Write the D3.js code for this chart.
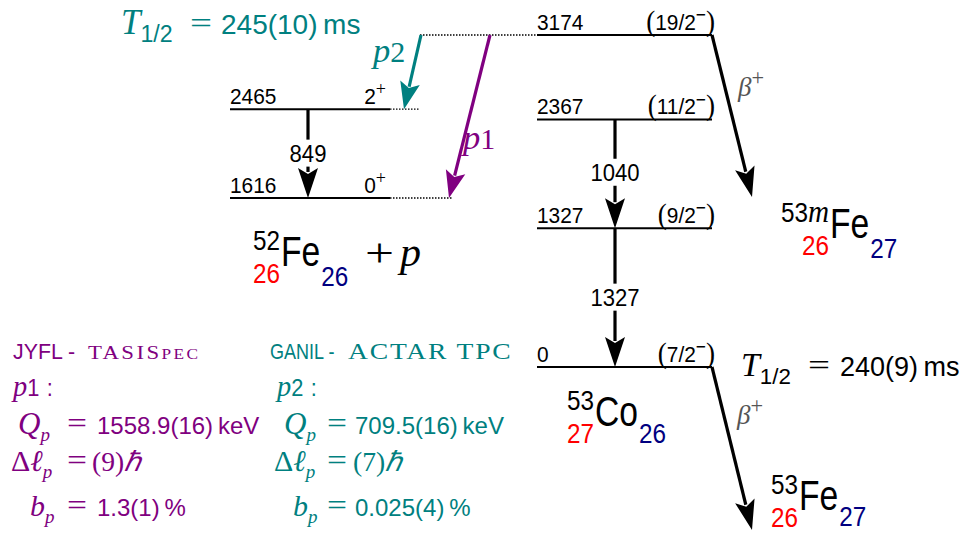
<!DOCTYPE html>
<html><head><meta charset="utf-8">
<script src="https://cdn.jsdelivr.net/npm/d3@7"></script>
<style>body{margin:0;background:#fff}text{white-space:pre}</style>
</head><body><svg id="c" width="970" height="533"></svg>
<script>
// ---------- data ----------
const co53Energies = [3174, 2367, 1327, 0];
const co53Spins = ["19/2", "11/2", "9/2", "7/2"];
const fe52Energies = [2465, 1616];
const fe52Spins = ["2", "0"];
const gammaFrom = [2465, 2367, 1327];
const gammaTo = [1616, 1327, 0];
const gammaLabels = ["849", "1040", "1327"];
const gammaSide = ["fe", "co", "co"];
const protonNames = ["p1", "p2"];
const protonFrom = [3174, 3174];
const protonTo = [1616, 2465];
const protonLab = ["JYFL - ", "GANIL - "];
const protonDet = [["TASIS", "PEC"], ["ACTAR TPC", ""]];
const protonQ = ["1558.9(16)", "709.5(16)"];
const protonDl = ["(9)", "(7)"];
const protonBp = ["1.3(1)", "0.025(4)"];
const halfLives = ["245(10)", "240(9)"];

const SANS = "Liberation Sans, Arial, sans-serif";
const SERIF = "Liberation Serif, Times New Roman, serif";
const TEAL = "#008080", PURPLE = "#800080", RED = "#ff0000", NAVY = "#000080";

const svg = d3.select("#c");
const y = d3.scaleLinear().domain([0, 3174]).range([367, 35]);
const coX = d3.scaleLinear().domain([0, 1]).range([537, 712]);
const feX = d3.scaleLinear().domain([0, 1]).range([230, 390]);

// rich text: parts flow inside one <text>, optional horizontal scale sx
function rich(x, yy, parts, size, fill, anchor, sx) {
  const g = svg.append("g").attr("transform", `translate(${x},${yy}) scale(${sx || 1},1)`);
  const t = g.append("text").attr("x", 0).attr("y", 0).attr("font-size", size)
    .attr("fill", fill).attr("text-anchor", anchor || "start");
  let cur = 0;
  parts.forEach(p => {
    const target = p.sub ? size * 0.3 : p.sup ? -size * 0.4 : (p.shift || 0);
    const fs = (p.sub || p.sup) ? size * 0.72 * (p.scale || 1) : size * (p.scale || 1);
    const ts = t.append("tspan").attr("dy", target - cur).attr("font-size", fs).text(p.t);
    if (p.f === "i") ts.attr("font-family", SERIF).attr("font-style", "italic");
    else if (p.f === "r") ts.attr("font-family", SERIF);
    else ts.attr("font-family", SANS);
    if (p.fill) ts.attr("fill", p.fill);
    if (p.ls) ts.style("letter-spacing", p.ls + "px");
    cur = target;
  });
  return t;
}
// wide math "=" stretched to a given width
function eq(x, yy, w, size, fill) {
  svg.append("text").attr("x", x).attr("y", yy).attr("font-family", SERIF).attr("font-size", size)
    .attr("fill", fill).attr("textLength", w).attr("lengthAdjust", "spacingAndGlyphs").text("=");
}

function arrow(x1, y1, x2, y2, color, w, hl, hw) {
  const dx = x2 - x1, dy = y2 - y1, L = Math.hypot(dx, dy);
  const ux = dx / L, uy = dy / L, px = -uy, py = ux;
  const bx = x2 - ux * hl, by = y2 - uy * hl;
  svg.append("line").attr("x1", x1).attr("y1", y1).attr("x2", bx + ux * 4).attr("y2", by + uy * 4)
    .attr("stroke", color).attr("stroke-width", w);
  const ix = x2 - ux * hl * 0.8, iy = y2 - uy * hl * 0.8;
  svg.append("path").attr("d", `M${x2},${y2}L${bx + px * hw},${by + py * hw}L${ix},${iy}L${bx - px * hw},${by - py * hw}Z`)
    .attr("fill", color);
}

// ---------- levels ----------
co53Energies.forEach((e, i) => {
  svg.append("line").attr("x1", coX(0)).attr("x2", coX(1)).attr("y1", y(e)).attr("y2", y(e))
    .attr("stroke", "#000").attr("stroke-width", 2);
  rich(coX(0), y(e) - 5, [{t: String(e), f: "s"}], 22, "#000", "start", 0.95);
  rich(coX(1) + 3, y(e) - 5, [{t: "(", f: "r", scale: 1.3, shift: 1}, {t: co53Spins[i], f: "s"}, {t: "\u2212", f: "s", sup: true, scale: 1.15}, {t: ")", f: "r", scale: 1.3, shift: 1}], 22, "#000", "end", 0.95);
});
const feY = fe52Energies.map(e => y(e));
fe52Energies.forEach((e, i) => {
  svg.append("line").attr("x1", feX(0)).attr("x2", feX(1)).attr("y1", feY[i]).attr("y2", feY[i])
    .attr("stroke", "#000").attr("stroke-width", 2);
  rich(feX(0), feY[i] - 5, [{t: String(e), f: "s"}], 22, "#000", "start", 0.95);
  rich(feX(1) - 4, feY[i] - 5, [{t: fe52Spins[i], f: "s"}, {t: "+", f: "r", sup: true, scale: 1.2}], 22, "#000", "end", 0.95);
});

// dotted extensions
const dotEnds = [420, 452];
fe52Energies.forEach((e, i) => {
  svg.append("line").attr("x1", feX(1)).attr("x2", dotEnds[i]).attr("y1", feY[i]).attr("y2", feY[i])
    .attr("stroke", "#000").attr("stroke-width", 1.4).attr("stroke-dasharray", "1.5,1.5");
});
svg.append("line").attr("x1", 420).attr("x2", coX(0)).attr("y1", y(3174)).attr("y2", y(3174))
  .attr("stroke", "#000").attr("stroke-width", 1.4).attr("stroke-dasharray", "1.5,1.5");

// ---------- gammas ----------
const gammaLabY = [y(2040), y(1857), y(663)];
gammaFrom.forEach((e, i) => {
  const gx = gammaSide[i] === "fe" ? 308 : 615;
  arrow(gx, y(e), gx, y(gammaTo[i]), "#000", 3.2, 30, 10);
  const ly = gammaLabY[i];
  const tw = gammaLabels[i].length * 12.5 + 4;
  svg.append("rect").attr("x", gx - tw / 2).attr("y", ly - 14).attr("width", tw).attr("height", 27).attr("fill", "#fff");
  rich(gx, ly + 8, [{t: gammaLabels[i], f: "s"}], 23, "#000", "middle", 0.96);
});

// ---------- protons ----------
const pColors = [PURPLE, TEAL];
const pStartX = [490, 421], pEndX = [449, 404];
protonNames.forEach((n, i) => {
  arrow(pStartX[i], y(protonFrom[i]), pEndX[i], y(protonTo[i]), pColors[i], 3.2, 27, 10);
});
rich(463, 149, [{t: "p", f: "i", scale: 1.15}, {t: "1", f: "r"}], 30, PURPLE);
rich(373, 62, [{t: "p", f: "i", scale: 1.15}, {t: "2", f: "r"}], 30, TEAL);

// ---------- beta arrows ----------
arrow(712, y(3174), 752, 197, "#000", 3.2, 30, 10);
arrow(712, y(0), 752, 530, "#000", 3.2, 30, 10);
rich(738, 96, [{t: "β", f: "i"}, {t: "+", f: "r", sup: true, scale: 1.15}], 27, "#555");
rich(737, 424, [{t: "β", f: "i"}, {t: "+", f: "r", sup: true, scale: 1.15}], 27, "#555");

// ---------- half lives ----------
const hlX = [[121, 190, 221], [741, 808, 840]];
const hlY = [34, 376], hlC = [TEAL, "#000"], hlS = [28, 27];
halfLives.forEach((h, i) => {
  rich(hlX[i][0], hlY[i], [{t: "T", f: "i", scale: 1.25}, {t: "1/2", f: "s", sub: true, scale: 1.15}], hlS[i], hlC[i]);
  eq(hlX[i][1], hlY[i] - 1, 22, 30, hlC[i]);
  rich(hlX[i][2], hlY[i], [{t: h + "\u2009ms", f: "s"}], hlS[i], hlC[i]);
});

// ---------- nuclides ----------
function nuclide(x, base, A, m, Z, N, sym, nOff) {
  const sx = 0.8;
  const s = rich(x, base, [{t: sym, f: "s"}], 42, "#000", "start", sx);
  const w = s.node().getComputedTextLength() * sx;
  rich(x - 1, base - 16, [{t: A, f: "s"}].concat(m ? [{t: "m", f: "i", scale: 1.2}] : []), 27, "#000", "end", 0.9);
  rich(x - 1, base + 17, [{t: Z, f: "s"}], 27, RED, "end", 0.9);
  rich(x + w + 1, base + nOff, [{t: N, f: "s"}], 27, NAVY, "start", 0.9);
}
nuclide(281, 266, "52", false, "26", "26", "Fe", 20);
svg.append("text").attr("x", 365).attr("y", 266).attr("font-family", SERIF).attr("font-size", 40)
  .attr("textLength", 29).attr("lengthAdjust", "spacingAndGlyphs").text("+");
rich(400, 266, [{t: "p", f: "i"}], 42, "#000");
nuclide(830, 238, "53", true, "26", "27", "Fe", 20);
nuclide(595, 426, "53", false, "27", "26", "Co", 17);
nuclide(799, 510, "53", false, "26", "27", "Fe", 16);

// ---------- bottom info ----------
const colX = [[13, 13, 18, 11, 30], [270, 277, 284, 274, 293]];
const detX = [88, 348];
const eqX = [67, 327], rhsX = [97, 355], dlX = [92, 353];
const rowY = [359, 396, 434, 471, 516];
const BS = 23;
protonNames.forEach((n, i) => {
  const c = pColors[i], X = colX[i];
  const det = protonDet[i];
  rich(X[0], rowY[0], [{t: protonLab[i], f: "s"}], 22, c, "start", i === 0 ? 0.97 : 0.82);
  if (i === 0) rich(detX[i], rowY[0], [{t: det[0], f: "r", ls: 2}, {t: det[1], f: "r", scale: 0.76, ls: 2}], 19, c, "start", 1.2);
  else rich(detX[i], rowY[0], [{t: det[0], f: "r", ls: 1.5}], 23, c, "start", 1.2);
  rich(X[1], rowY[1], [{t: "p", f: "i", scale: 1.3}, {t: n.slice(1) + "\u2004:", f: "s"}], BS, c, "start", 0.95);
  // Q_p
  rich(X[2], rowY[2], [{t: "Q", f: "i", scale: 1.35}, {t: "p", f: "i", sub: true, scale: 1.15}], BS, c);
  eq(eqX[i], rowY[2] - 1, 20, 30, c);
  rich(rhsX[i], rowY[2], [{t: protonQ[i] + "\u2009keV", f: "s"}], 24, c);
  // Δℓ_p
  rich(X[3], rowY[3], [{t: "Δ", f: "r", scale: 1.3}, {t: "ℓ", f: "i", scale: 1.3}, {t: "p", f: "i", sub: true, scale: 1.15}], BS, c);
  eq(eqX[i], rowY[3] - 1, 20, 30, c);
  rich(dlX[i], rowY[3], [{t: protonDl[i], f: "r", scale: 1.2}, {t: "ℏ", f: "i", scale: 1.2}], BS, c);
  // b_p
  rich(X[4], rowY[4], [{t: "b", f: "i", scale: 1.3}, {t: "p", f: "i", sub: true, scale: 1.15}], BS, c);
  eq(eqX[i], rowY[4] - 1, 20, 30, c);
  rich(rhsX[i], rowY[4], [{t: protonBp[i] + "\u2009%", f: "s"}], 24, c);
});
</script></body></html>
